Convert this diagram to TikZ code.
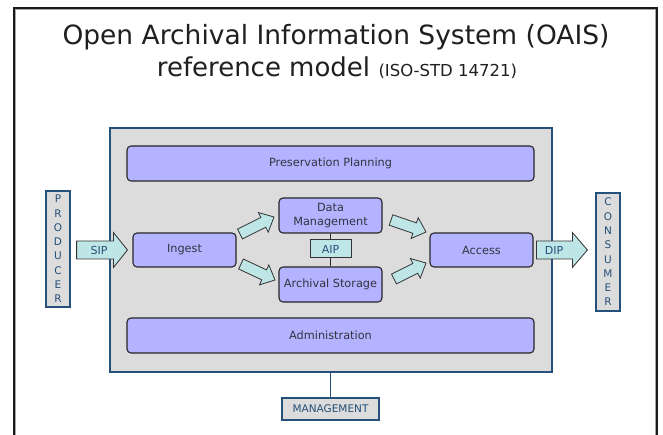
\documentclass[tikz,border=0pt]{standalone}
\usepackage{fontspec}
\setmainfont{DejaVu Sans}
\usetikzlibrary{calc}
\definecolor{lav}{HTML}{B3B3FF}
\definecolor{syscol}{HTML}{DCDCDC}
\definecolor{dblue}{HTML}{24507A}
\definecolor{acyan}{HTML}{BFE6E6}
\definecolor{txt}{HTML}{333340}
\tikzset{
  func/.style={draw=black!85, line width=1.1pt, fill=lav, rounded corners=4pt, inner sep=0pt, font=\fontsize{11.3}{13.5}\selectfont, text=txt, align=center},
  ext/.style={draw=dblue, line width=1.2pt, fill=syscol, inner sep=0pt, text=dblue},
  arrowfill/.style={draw=black!80, line width=0.8pt, fill=acyan},
  aip/.style={draw=black!80, line width=1pt, fill=acyan, inner sep=0pt, font=\fontsize{11}{12}\selectfont, text=dblue},
}
\newcommand{\blockarr}[5]{%
  \coordinate (h-#1) at ($(#2)!#5!(#1)$);
  \filldraw[arrowfill] ($(#1)!#3!90:(#2)$) -- ($(h-#1)!#3!-90:(#1)$) -- ($(h-#1)!#4!-90:(#1)$) -- (#2) -- ($(h-#1)!#4!90:(#1)$) -- ($(h-#1)!#3!90:(#1)$) -- ($(#1)!#3!-90:(#2)$) -- cycle;}
\begin{document}
\begin{tikzpicture}[x=1pt,y=-1pt]
\useasboundingbox (0,0) rectangle (663,435);
\fill[white] (0,0) rectangle (663,435);
% outer frame
\draw[black!90, line width=2pt] (14,436) -- (14,8) -- (657,8) -- (657,436);
\draw[black!35, line width=0.6pt] (15.6,436) -- (15.6,9.6) -- (655.4,9.6) -- (655.4,436);
% title
\node[font=\fontsize{26.5}{30}\selectfont, text=black!88, anchor=base] (title1) at (336,45) {Open Archival Information System (OAIS)};
\node[font=\fontsize{26}{30}\selectfont, text=black!88, anchor=base, inner sep=0pt] (title2) at (337,77) {reference model {\fontsize{16.5}{18}\selectfont (ISO-STD 14721)}};
% system box
\node[draw=dblue, line width=1.6pt, fill=syscol, minimum width=442pt, minimum height=244pt, inner sep=0pt] (sys) at (331,250) {};
% functional entities
\node[func, minimum width=407pt, minimum height=35pt] (pp) at (330.5,163.5) {Preservation Planning};
\node[func, minimum width=407pt, minimum height=35pt] (adm) at (330.5,335.5) {Administration};
\node[func, minimum width=103pt, minimum height=34pt] (ing) at (184.5,250) {Ingest};
\node[func, minimum width=103pt, minimum height=35pt] (dm) at (330.5,215.5) {Data\\Management};
\node[func, minimum width=103pt, minimum height=35pt] (as) at (330.5,284.5) {Archival Storage};
\node[func, minimum width=103pt, minimum height=34pt] (acc) at (481.5,250) {Access};
% AIP
\node[aip, minimum width=41pt, minimum height=18pt] (aipn) at (330.5,249) {AIP};
\draw[black!85, line width=0.9pt] (dm.south) -- (aipn.north);
\draw[black!85, line width=0.9pt] (aipn.south) -- (as.north);
% external entities
\node[ext, minimum width=24pt, minimum height=116pt, align=center, font=\fontsize{10.5}{14.3}\selectfont] (prod) at (58,249) {P\\R\\O\\D\\U\\C\\E\\R};
\node[ext, minimum width=24pt, minimum height=118pt, align=center, font=\fontsize{10.5}{14.3}\selectfont] (cons) at (608,252) {C\\O\\N\\S\\U\\M\\E\\R};
\node[ext, minimum width=97pt, minimum height=22pt, font=\fontsize{10.5}{12}\selectfont] (mgmt) at (330.5,409) {MANAGEMENT};
\draw[dblue, line width=1.6pt] (mgmt.north) -- (mgmt.north |- sys.south);
% arrow end points
\coordinate (sipT) at ($(prod.east)+(6,1)$);
\coordinate (sipP) at ($(ing.west)+(-5,0)$);
\coordinate (dipT) at ($(acc.east)+(3,0)$);
\coordinate (dipP) at ($(cons.west)+(-8,-2)$);
\coordinate (a1T) at (240,234);
\coordinate (a1P) at (274,217);
\coordinate (a2T) at (241,264);
\coordinate (a2P) at (275,280);
\coordinate (a3T) at (391,220);
\coordinate (a3P) at (426,232);
\coordinate (a4T) at (394,279);
\coordinate (a4P) at (426,263);
\blockarr{sipT}{sipP}{9pt}{17.5pt}{14pt}
\blockarr{dipT}{dipP}{9pt}{17.5pt}{15pt}
\blockarr{a1T}{a1P}{5.5pt}{11pt}{12pt}
\blockarr{a2T}{a2P}{5.5pt}{11pt}{12pt}
\blockarr{a3T}{a3P}{5.5pt}{11pt}{12pt}
\blockarr{a4T}{a4P}{5.5pt}{11pt}{12pt}
\node[font=\fontsize{11}{12}\selectfont, text=dblue] (sipl) at (99,250) {SIP};
\node[font=\fontsize{11}{12}\selectfont, text=dblue] (dipl) at (554,250) {DIP};
\end{tikzpicture}
\end{document}
